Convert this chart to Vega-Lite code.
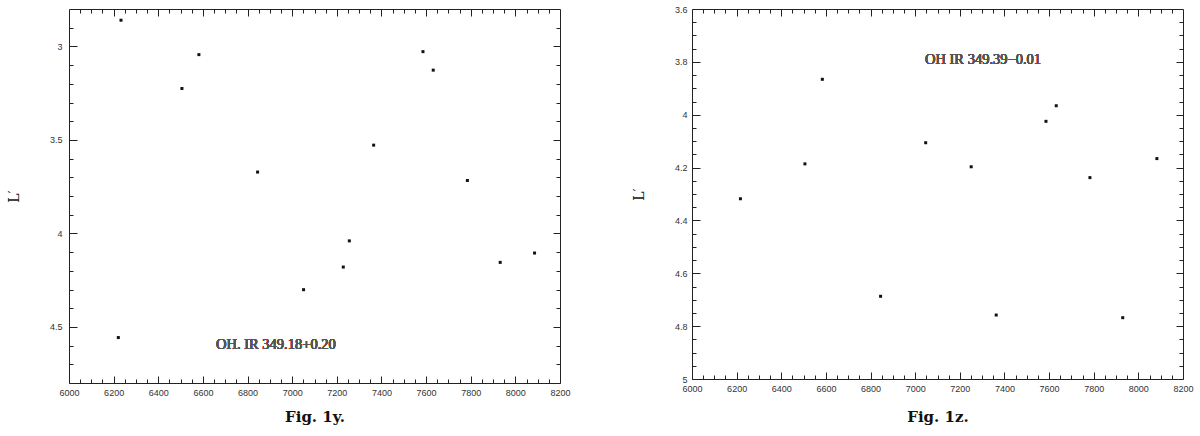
{
  "$schema": "https://vega.github.io/schema/vega-lite/v6.json",
  "background": "white",
  "padding": {"left": 6, "top": 4, "right": 5, "bottom": 5},
  "spacing": 132,
  "bounds": "flush",
  "datasets": {
    "y_panel": [
      {"jd": 6233, "lmag": 2.86},
      {"jd": 6506, "lmag": 3.225},
      {"jd": 6582, "lmag": 3.044},
      {"jd": 6845, "lmag": 3.672},
      {"jd": 7586, "lmag": 3.028},
      {"jd": 7632, "lmag": 3.127},
      {"jd": 7365, "lmag": 3.528},
      {"jd": 7785, "lmag": 3.717},
      {"jd": 6221, "lmag": 4.557},
      {"jd": 7051, "lmag": 4.301},
      {"jd": 7229, "lmag": 4.18},
      {"jd": 7256, "lmag": 4.04},
      {"jd": 7932, "lmag": 4.155},
      {"jd": 8086, "lmag": 4.105}
    ],
    "z_panel": [
      {"jd": 6584, "lmag": 3.866},
      {"jd": 6506, "lmag": 4.186},
      {"jd": 6217, "lmag": 4.318},
      {"jd": 7047, "lmag": 4.106},
      {"jd": 7251, "lmag": 4.197},
      {"jd": 7586, "lmag": 4.025},
      {"jd": 7632, "lmag": 3.966},
      {"jd": 7783, "lmag": 4.238},
      {"jd": 8083, "lmag": 4.166},
      {"jd": 6845, "lmag": 4.687},
      {"jd": 7363, "lmag": 4.758},
      {"jd": 7930, "lmag": 4.768}
    ]
  },
  "config": {
    "view": {"stroke": "#222", "strokeWidth": 1}
  },
  "hconcat": [
    {
      "width": 491,
      "height": 374,
      "data": {"name": "y_panel"},
      "resolve": {"scale": {"x": "shared", "y": "shared"}, "axis": {"x": "independent", "y": "independent"}},
      "layer": [
        {
          "mark": {"type": "point", "shape": "square", "filled": true, "size": 9, "color": "#111", "opacity": 1},
          "encoding": {
            "x": {"field": "jd", "type": "quantitative",
              "scale": {"domain": [6000, 8200], "nice": false, "zero": false},
              "axis": {"orient": "bottom", "values": [6000, 6200, 6400, 6600, 6800, 7000, 7200, 7400, 7600, 7800, 8000, 8200], "format": "d", "grid": false, "domain": false, "offset": -7, "tickSize": 7, "tickColor": "#222", "tickWidth": 1, "zindex": 2, "labelPadding": 5, "labelFlush": false, "labelFont": "Liberation Sans", "labelFontSize": 9, "labelColor": "#333",
                "title": "Fig. 1y.", "titleColor": "#111", "titleFont": "DejaVu Serif", "titleFontWeight": "bold", "titleFontSize": 15, "titlePadding": 12}},
            "y": {"field": "lmag", "type": "quantitative",
              "scale": {"domain": [2.8, 4.8], "nice": false, "zero": false, "reverse": true},
              "axis": {"orient": "left", "values": [3, 3.5, 4, 4.5], "format": "~g", "grid": false, "domain": false, "offset": -8, "tickSize": 8, "tickColor": "#222", "tickWidth": 1, "zindex": 2, "labelPadding": 7, "labelFont": "Liberation Sans", "labelFontSize": 9, "labelColor": "#333",
                "title": "L′", "titleColor": "#111", "titleFont": "DejaVu Serif", "titleFontWeight": "normal", "titleFontSize": 14, "titlePadding": 28}}
          }
        },
        {
          "mark": {"type": "point", "opacity": 0},
          "encoding": {
            "x": {"field": "jd", "type": "quantitative",
              "axis": {"orient": "bottom", "values": [6050,6100,6150,6250,6300,6350,6450,6500,6550,6650,6700,6750,6850,6900,6950,7050,7100,7150,7250,7300,7350,7450,7500,7550,7650,7700,7750,7850,7900,7950,8050,8100,8150], "grid": false, "domain": false, "offset": -4, "tickSize": 4, "tickColor": "#222", "tickWidth": 1, "zindex": 2, "labels": false, "title": null}},
            "y": {"field": "lmag", "type": "quantitative",
              "axis": {"orient": "left", "values": [2.9,3.1,3.2,3.3,3.4,3.6,3.7,3.8,3.9,4.1,4.2,4.3,4.4,4.6,4.7], "grid": false, "domain": false, "offset": -4, "tickSize": 4, "tickColor": "#222", "tickWidth": 1, "zindex": 2, "labels": false, "title": null}}
          }
        },
        {
          "mark": {"type": "point", "opacity": 0},
          "encoding": {
            "x": {"field": "jd", "type": "quantitative",
              "axis": {"orient": "top", "values": [6050,6100,6150,6250,6300,6350,6450,6500,6550,6650,6700,6750,6850,6900,6950,7050,7100,7150,7250,7300,7350,7450,7500,7550,7650,7700,7750,7850,7900,7950,8050,8100,8150], "grid": false, "domain": false, "offset": -4, "tickSize": 4, "tickColor": "#222", "tickWidth": 1, "zindex": 2, "labels": false, "title": null}},
            "y": {"field": "lmag", "type": "quantitative",
              "axis": {"orient": "right", "values": [2.9,3.1,3.2,3.3,3.4,3.6,3.7,3.8,3.9,4.1,4.2,4.3,4.4,4.6,4.7], "grid": false, "domain": false, "offset": -4, "tickSize": 4, "tickColor": "#222", "tickWidth": 1, "zindex": 2, "labels": false, "title": null}}
          }
        },
        {
          "mark": {"type": "point", "opacity": 0},
          "encoding": {
            "x": {"field": "jd", "type": "quantitative",
              "axis": {"orient": "top", "values": [6200, 6400, 6600, 6800, 7000, 7200, 7400, 7600, 7800, 8000], "grid": false, "domain": false, "offset": -7, "tickSize": 7, "tickColor": "#222", "tickWidth": 1, "zindex": 2, "labels": false, "title": null}},
            "y": {"field": "lmag", "type": "quantitative",
              "axis": {"orient": "right", "values": [3, 3.5, 4, 4.5], "grid": false, "domain": false, "offset": -7, "tickSize": 7, "tickColor": "#222", "tickWidth": 1, "zindex": 2, "labels": false, "title": null}}
          }
        },
        {
          "mark": {"type": "text", "font": "Liberation Serif", "fontSize": 14.5, "fontWeight": "normal", "fill": "#555", "align": "center", "baseline": "middle"},
          "encoding": {
            "x": {"datum": 6927, "type": "quantitative", "axis": null},
            "y": {"datum": 4.596, "type": "quantitative", "axis": null},
            "text": {"value": "OH. IR 349.18+0.20"}
          }
        }
      ]
    },
    {
      "width": 491,
      "height": 370,
      "data": {"name": "z_panel"},
      "resolve": {"scale": {"x": "shared", "y": "shared"}, "axis": {"x": "independent", "y": "independent"}},
      "layer": [
        {
          "mark": {"type": "point", "shape": "square", "filled": true, "size": 9, "color": "#111", "opacity": 1},
          "encoding": {
            "x": {"field": "jd", "type": "quantitative",
              "scale": {"domain": [6000, 8200], "nice": false, "zero": false},
              "axis": {"orient": "bottom", "values": [6000, 6200, 6400, 6600, 6800, 7000, 7200, 7400, 7600, 7800, 8000, 8200], "format": "d", "grid": false, "domain": false, "offset": -7, "tickSize": 7, "tickColor": "#222", "tickWidth": 1, "zindex": 2, "labelPadding": 5, "labelFlush": false, "labelFont": "Liberation Sans", "labelFontSize": 9, "labelColor": "#333",
                "title": "Fig. 1z.", "titleColor": "#111", "titleFont": "DejaVu Serif", "titleFontWeight": "bold", "titleFontSize": 15, "titlePadding": 16}},
            "y": {"field": "lmag", "type": "quantitative",
              "scale": {"domain": [3.6, 5], "nice": false, "zero": false, "reverse": true},
              "axis": {"orient": "left", "values": [3.6, 3.8, 4, 4.2, 4.4, 4.6, 4.8, 5], "format": "~g", "grid": false, "domain": false, "offset": -8, "tickSize": 8, "tickColor": "#222", "tickWidth": 1, "zindex": 2, "labelPadding": 5, "labelFont": "Liberation Sans", "labelFontSize": 9, "labelColor": "#333",
                "title": "L′", "titleColor": "#111", "titleFont": "DejaVu Serif", "titleFontWeight": "normal", "titleFontSize": 14, "titlePadding": 28}}
          }
        },
        {
          "mark": {"type": "point", "opacity": 0},
          "encoding": {
            "x": {"field": "jd", "type": "quantitative",
              "axis": {"orient": "bottom", "values": [6050,6100,6150,6250,6300,6350,6450,6500,6550,6650,6700,6750,6850,6900,6950,7050,7100,7150,7250,7300,7350,7450,7500,7550,7650,7700,7750,7850,7900,7950,8050,8100,8150], "grid": false, "domain": false, "offset": -4, "tickSize": 4, "tickColor": "#222", "tickWidth": 1, "zindex": 2, "labels": false, "title": null}},
            "y": {"field": "lmag", "type": "quantitative",
              "axis": {"orient": "left", "values": [3.65,3.7,3.75,3.85,3.9,3.95,4.05,4.1,4.15,4.25,4.3,4.35,4.45,4.5,4.55,4.65,4.7,4.75,4.85,4.9,4.95], "grid": false, "domain": false, "offset": -4, "tickSize": 4, "tickColor": "#222", "tickWidth": 1, "zindex": 2, "labels": false, "title": null}}
          }
        },
        {
          "mark": {"type": "point", "opacity": 0},
          "encoding": {
            "x": {"field": "jd", "type": "quantitative",
              "axis": {"orient": "top", "values": [6050,6100,6150,6250,6300,6350,6450,6500,6550,6650,6700,6750,6850,6900,6950,7050,7100,7150,7250,7300,7350,7450,7500,7550,7650,7700,7750,7850,7900,7950,8050,8100,8150], "grid": false, "domain": false, "offset": -4, "tickSize": 4, "tickColor": "#222", "tickWidth": 1, "zindex": 2, "labels": false, "title": null}},
            "y": {"field": "lmag", "type": "quantitative",
              "axis": {"orient": "right", "values": [3.65,3.7,3.75,3.85,3.9,3.95,4.05,4.1,4.15,4.25,4.3,4.35,4.45,4.5,4.55,4.65,4.7,4.75,4.85,4.9,4.95], "grid": false, "domain": false, "offset": -4, "tickSize": 4, "tickColor": "#222", "tickWidth": 1, "zindex": 2, "labels": false, "title": null}}
          }
        },
        {
          "mark": {"type": "point", "opacity": 0},
          "encoding": {
            "x": {"field": "jd", "type": "quantitative",
              "axis": {"orient": "top", "values": [6200, 6400, 6600, 6800, 7000, 7200, 7400, 7600, 7800, 8000], "grid": false, "domain": false, "offset": -7, "tickSize": 7, "tickColor": "#222", "tickWidth": 1, "zindex": 2, "labels": false, "title": null}},
            "y": {"field": "lmag", "type": "quantitative",
              "axis": {"orient": "right", "values": [3.8, 4, 4.2, 4.4, 4.6, 4.8], "grid": false, "domain": false, "offset": -7, "tickSize": 7, "tickColor": "#222", "tickWidth": 1, "zindex": 2, "labels": false, "title": null}}
          }
        },
        {
          "mark": {"type": "text", "font": "Liberation Serif", "fontSize": 14.5, "fontWeight": "normal", "fill": "#555", "align": "center", "baseline": "middle"},
          "encoding": {
            "x": {"datum": 7304, "type": "quantitative", "axis": null},
            "y": {"datum": 3.793, "type": "quantitative", "axis": null},
            "text": {"value": "OH IR 349.39−0.01"}
          }
        }
      ]
    }
  ]
}
